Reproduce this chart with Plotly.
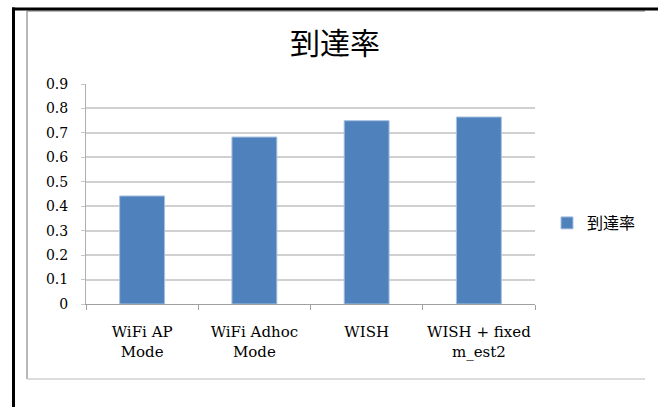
import plotly.graph_objects as go

categories = ["WiFi AP<br>Mode", "WiFi Adhoc<br>Mode", "WISH", "WISH + fixed<br>m_est2"]
values = [0.442, 0.683, 0.750, 0.765]
series_name = "到達率"
title_text = "到達率"
y_ticks = [0, 0.1, 0.2, 0.3, 0.4, 0.5, 0.6, 0.7, 0.8, 0.9]
y_ticklabels = ["0", "0.1", "0.2", "0.3", "0.4", "0.5", "0.6", "0.7", "0.8", "0.9"]

W, H = 658, 407
L, R, T, B = 86, 535, 84, 304

def px2x(px):
    return (px - L) / (R - L)

def px2y(py):
    return (B - py) / (B - T)

fig = go.Figure()
fig.add_trace(go.Bar(
    x=categories, y=values, name=series_name,
    marker=dict(color="#4f81bd", line=dict(color="#a8c1e0", width=1)),
    showlegend=True,
))

serif = "DejaVu Serif"
fig.update_layout(
    width=W, height=H,
    margin=dict(l=L, r=W - R, t=T, b=H - B),
    paper_bgcolor="white", plot_bgcolor="white",
    bargap=0.6,
    title=dict(text=title_text, x=px2x(335), xref="paper", xanchor="center",
               y=1 - 43 / H, yref="container", yanchor="middle",
               font=dict(family="Noto Sans CJK JP", size=30, color="#000")),
    showlegend=True,
    legend=dict(x=px2x(547), y=px2y(223), xanchor="left", yanchor="middle",
                font=dict(family="Noto Sans CJK JP", size=16, color="#000"),
                itemwidth=30, bgcolor="rgba(0,0,0,0)"),
    xaxis=dict(type="category", tickson="boundaries", ticks="outside", ticklen=5,
               tickcolor="#a0a0a0", showline=True, linecolor="#a0a0a0", linewidth=1,
               showgrid=False, ticklabelstandoff=14, tickangle=0,
               tickfont=dict(family=serif, size=15, color="#000")),
    yaxis=dict(range=[0, 0.9], tickvals=y_ticks, ticktext=y_ticklabels,
               ticks="outside", ticklen=4, tickcolor="#c8c8c8",
               showline=True, linecolor="#b0b0b0", linewidth=1,
               gridcolor="#d0d0d0", gridwidth=1.5, zeroline=False,
               ticklabelstandoff=10,
               tickfont=dict(family=serif, size=14, color="#000")),
)

shapes = [
    # grey inner frame
    dict(type="line", xref="paper", yref="paper", x0=px2x(27), x1=px2x(645), y0=px2y(11), y1=px2y(11),
         line=dict(color="#a0a0a0", width=1.5)),
    dict(type="line", xref="paper", yref="paper", x0=px2x(27), x1=px2x(27), y0=px2y(11), y1=px2y(379),
         line=dict(color="#a0a0a0", width=1.5)),
    dict(type="line", xref="paper", yref="paper", x0=px2x(27), x1=px2x(645), y0=px2y(379), y1=px2y(379),
         line=dict(color="#d0d0d0", width=1.5)),
    # black outer border
    dict(type="line", xref="paper", yref="paper", x0=px2x(12), x1=px2x(660), y0=px2y(9), y1=px2y(9),
         line=dict(color="#000", width=3)),
    dict(type="line", xref="paper", yref="paper", x0=px2x(13.5), x1=px2x(13.5), y0=px2y(7.5), y1=px2y(410),
         line=dict(color="#000", width=3)),
]
fig.update_layout(shapes=shapes)

fig.write_html("out.html")
